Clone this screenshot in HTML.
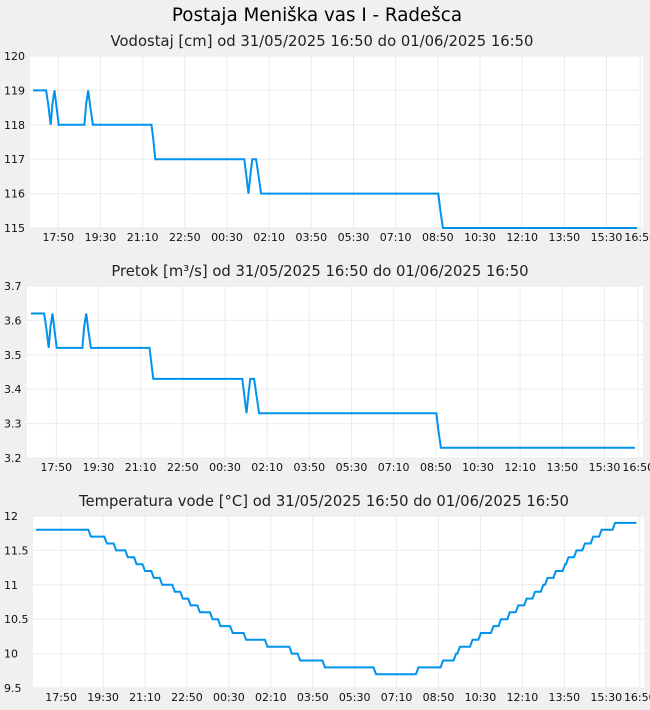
<!DOCTYPE html>
<html><head><meta charset="utf-8">
<style>
html,body{margin:0;padding:0;background:#f0f0f0;}
svg{display:block;font-family:"DejaVu Sans","Liberation Sans",sans-serif;}
</style></head>
<body>
<svg id="chart" width="650" height="710" viewBox="0 0 650 710" xmlns="http://www.w3.org/2000/svg">
<rect x="0" y="0" width="650" height="710" fill="#f0f0f0"/>
<text x="317" y="21" font-size="18.3" text-anchor="middle" fill="#000">Postaja Meniška vas I - Radešca</text>
<text x="322" y="46" font-size="14.8" text-anchor="middle" fill="#222">Vodostaj [cm] od 31/05/2025 16:50 do 01/06/2025 16:50</text>
<text x="320" y="276" font-size="14.8" text-anchor="middle" fill="#222">Pretok [m³/s] od 31/05/2025 16:50 do 01/06/2025 16:50</text>
<text x="324" y="506" font-size="14.8" text-anchor="middle" fill="#222">Temperatura vode [°C] od 31/05/2025 16:50 do 01/06/2025 16:50</text>
<g id="panels"></g>
</svg>
<script>
// time ticks (minutes after 31/05 16:50)
var tickMinutes = [60,160,260,360,460,560,660,760,860,960,1060,1160,1260,1360,1440];
var tickLabels = ["17:50","19:30","21:10","22:50","00:30","02:10","03:50","05:30","07:10","08:50","10:30","12:10","13:50","15:30","16:50"];

// Vodostaj (cm)
var levelTimes = [0,31,36,42,46,51,56,61,122,126,131,136,142,281,285,290,501,506,511,516,520,529,535,541,961,966,972,1432];
var levelValues = [119,119,118.6,118,118.6,119,118.5,118,118,118.6,119,118.5,118,118,117.6,117,117,116.5,116,116.6,117,117,116.5,116,116,115.5,115,115];
var levelTicks = [115,116,117,118,119,120];
var levelTickLabels = ["115","116","117","118","119","120"];

// Pretok (m3/s)
var flowTimes = [0,31,36,42,46,51,56,61,122,126,131,136,142,281,285,290,501,506,511,516,520,529,535,541,961,966,972,1432];
var flowValues = [3.62,3.62,3.58,3.52,3.58,3.62,3.57,3.52,3.52,3.58,3.62,3.57,3.52,3.52,3.48,3.43,3.43,3.38,3.33,3.39,3.43,3.43,3.38,3.33,3.33,3.28,3.23,3.23];
var flowTicks = [3.2,3.3,3.4,3.5,3.6,3.7];
var flowTickLabels = ["3.2","3.3","3.4","3.5","3.6","3.7"];

// Temperatura vode (°C) step changes: time of new level, level
var tempTimes = [0,131,169,191,219,240,260,281,301,331,350,369,391,421,440,469,501,552,610,630,689,811,912,971,1002,1011,1041,1061,1091,1109,1130,1150,1170,1190,1210,1220,1240,1262,1270,1289,1309,1329,1349,1381];
var tempValues = [11.8,11.7,11.6,11.5,11.4,11.3,11.2,11.1,11.0,10.9,10.8,10.7,10.6,10.5,10.4,10.3,10.2,10.1,10.0,9.9,9.8,9.7,9.8,9.9,10.0,10.1,10.2,10.3,10.4,10.5,10.6,10.7,10.8,10.9,11.0,11.1,11.2,11.3,11.4,11.5,11.6,11.7,11.8,11.9];
var tempEnd = 1432;
var tempTicks = [9.5,10,10.5,11,11.5,12];
var tempTickLabels = ["9.5","10","10.5","11","11.5","12"];

var NS = "http://www.w3.org/2000/svg";
var root = document.getElementById('panels');
function mk(tag, attrs, parent){
  var e = document.createElementNS(NS, tag);
  for (var k in attrs) e.setAttribute(k, attrs[k]);
  (parent||root).appendChild(e);
  return e;
}
function panel(cfg){
  var g = mk('g', {});
  
  
  var xs = function(m){ return cfg.x0 + m * cfg.pxMin; };
  var ys = function(v){ return cfg.bottom - (v - cfg.vmin) / (cfg.vmax - cfg.vmin) * (cfg.bottom - cfg.top); };
  var bg = mk('rect', {x:cfg.left, y:cfg.top, width:cfg.right-cfg.left, height:cfg.bottom-cfg.top, fill:'#fff'}, g);
  
  
  cfg.yt.forEach(function(v,i){
    var y = ys(v);
    var l = mk('line', {x1:cfg.left, x2:cfg.right, y1:y, y2:y, stroke:'#ebebeb', 'stroke-width':1}, g);
    
    
    var t = mk('text', {x:4, y:y+4, 'font-size':11, fill:'#111'}, g);
    t.textContent = cfg.ytl[i];
    
    
  });
  tickMinutes.forEach(function(m,i){
    var x = xs(m);
    var l = mk('line', {x1:x, x2:x, y1:cfg.top, y2:cfg.bottom, stroke:'#ebebeb', 'stroke-width':1}, g);
    
    
    var t = mk('text', {x:x, y:cfg.bottom+13, 'font-size':11, fill:'#111', 'text-anchor':'middle'}, g);
    t.textContent = tickLabels[i];
    
    
  });
  var d = cfg.pts.map(function(p,i){ return (i?'L':'M') + xs(p[0]).toFixed(1) + ' ' + ys(p[1]).toFixed(1); }).join(' ');
  var path = mk('path', {d:d, fill:'none', stroke:'#0093ee', 'stroke-width':2, 'stroke-linejoin':'miter'}, g);
  
  
}
function zipPts(ts, vs){ return ts.map(function(t,i){ return [t, vs[i]]; }); }
function stepPts(ts, vs, end){
  var p = [[ts[0], vs[0]]];
  for (var i=1;i<ts.length;i++){ p.push([ts[i]-6, vs[i-1]]); p.push([ts[i], vs[i]]); }
  p.push([end, vs[vs.length-1]]);
  return p;
}
panel({name:'water-level-chart', left:30, right:643, top:56, bottom:228, x0:33, pxMin:0.4217, vmin:115, vmax:120, yt:levelTicks, ytl:levelTickLabels, pts:zipPts(levelTimes, levelValues)});
panel({name:'flow-chart', left:27, right:643, top:286, bottom:458, x0:31, pxMin:0.4217, vmin:3.2, vmax:3.7, yt:flowTicks, ytl:flowTickLabels, pts:zipPts(flowTimes, flowValues)});
panel({name:'temperature-chart', left:33, right:644, top:516, bottom:688, x0:36, pxMin:0.4193, vmin:9.5, vmax:12, yt:tempTicks, ytl:tempTickLabels, pts:stepPts(tempTimes, tempValues, tempEnd)});
</script>
</body></html>
